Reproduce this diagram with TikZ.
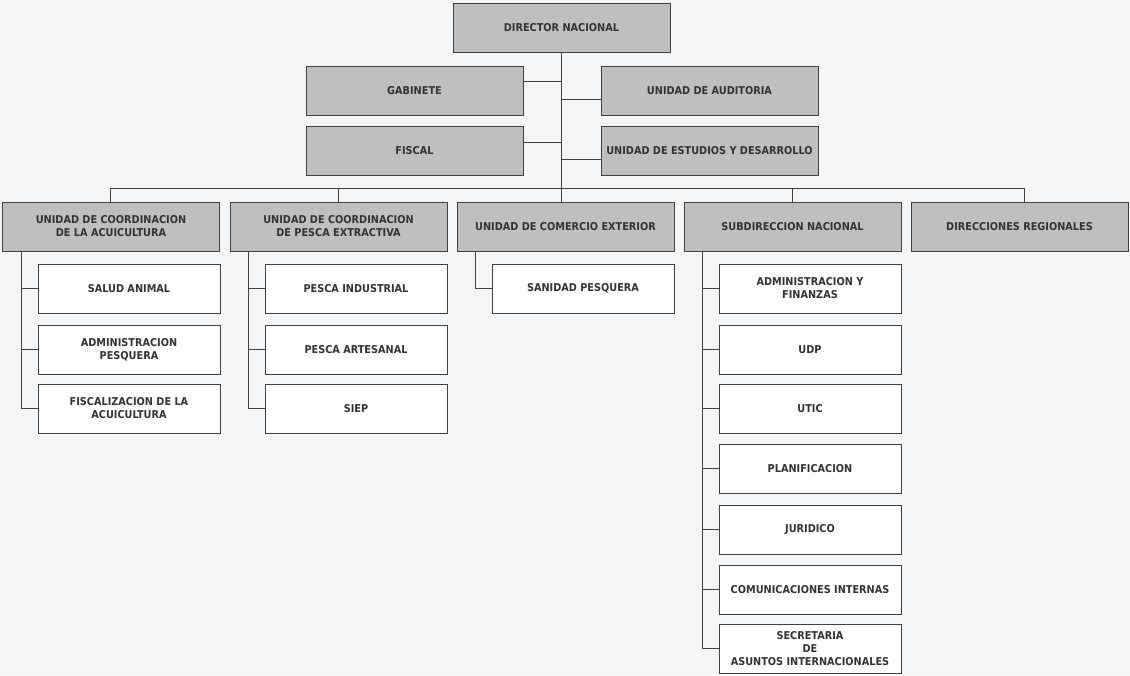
\documentclass[tikz,border=0pt]{standalone}
\usepackage{fontspec}
\setmainfont{DejaVu Sans Condensed}
\begin{document}
\begin{tikzpicture}[x=1pt,y=-1pt,
  every node/.style={font=\bfseries\fontsize{10.8}{12.9}\selectfont, text=black!80, align=center, inner sep=0pt},
  gbox/.style={draw=black!75, line width=1pt, fill=gray!50!white, minimum width=217pt, minimum height=49pt},
  wbox/.style={draw=black!75, line width=1pt, fill=white, minimum width=182pt, minimum height=49pt},
  conn/.style={draw=black!75, line width=1pt}]
\fill[fill={rgb,255:red,245;green,246;blue,248}] (0,0) rectangle (1130,675);
\useasboundingbox (0,0) rectangle (1130,675);
% top level
\node[gbox] (dir) at (561.5,27.5) {DIRECTOR NACIONAL};
\node[gbox] (gab) at (414.5,90.5) {GABINETE};
\node[gbox] (aud) at (709.5,90.5) {UNIDAD DE AUDITORIA};
\node[gbox] (fis) at (414.5,150.5) {FISCAL};
\node[gbox] (est) at (709.5,150.5) {UNIDAD DE ESTUDIOS Y DESARROLLO};
% level 2
\node[gbox] (l1) at (111,226.5) {UNIDAD DE COORDINACION\\DE LA ACUICULTURA};
\node[gbox] (l2) at (338.5,226.5) {UNIDAD DE COORDINACION\\DE PESCA EXTRACTIVA};
\node[gbox] (l3) at (565.5,226.5) {UNIDAD DE COMERCIO EXTERIOR};
\node[gbox] (l4) at (792.5,226.5) {SUBDIRECCION NACIONAL};
\node[gbox] (l5) at (1019.5,226.5) {DIRECCIONES REGIONALES};
% children of l1
\node[wbox] (a1) at (129,288.5) {SALUD ANIMAL};
\node[wbox] (a2) at (129,349.5) {ADMINISTRACION\\PESQUERA};
\node[wbox] (a3) at (129,408.5) {FISCALIZACION DE LA\\ACUICULTURA};
% children of l2
\node[wbox] (b1) at (356,288.5) {PESCA INDUSTRIAL};
\node[wbox] (b2) at (356,349.5) {PESCA ARTESANAL};
\node[wbox] (b3) at (356,408.5) {SIEP};
% child of l3
\node[wbox] (c1) at (583,288.5) {SANIDAD PESQUERA};
% children of l4
\node[wbox] (d1) at (810,288.5) {ADMINISTRACION Y\\FINANZAS};
\node[wbox] (d2) at (810,349.5) {UDP};
\node[wbox] (d3) at (810,408.5) {UTIC};
\node[wbox] (d4) at (810,468.5) {PLANIFICACION};
\node[wbox] (d5) at (810,529.5) {JURIDICO};
\node[wbox] (d6) at (810,589.5) {COMUNICACIONES INTERNAS};
\node[wbox] (d7) at (810,648.5) {SECRETARIA\\DE\\ASUNTOS INTERNACIONALES};
% trunk and bus
\coordinate (bus) at (561.5,188);
\coordinate (busL) at (110,188);
\coordinate (busR) at (1024,188);
\draw[conn] (dir.south) -- (bus) -- (l3.north -| bus);
\draw[conn] (busL) -- (busR);
\draw[conn] (busL) -- (busL |- l1.north);
\draw[conn] (l2.north |- bus) -- (l2.north);
\draw[conn] (l4.north |- bus) -- (l4.north);
\draw[conn] (busR) -- (busR |- l5.north);
% staff units
\draw[conn] ([yshift=9.5pt]gab.east) -- ([yshift=9.5pt]gab.east -| bus);
\draw[conn] ([yshift=-8.5pt]aud.west) -- ([yshift=-8.5pt]aud.west -| bus);
\draw[conn] ([yshift=8.5pt]fis.east) -- ([yshift=8.5pt]fis.east -| bus);
\draw[conn] ([yshift=-8.5pt]est.west) -- ([yshift=-8.5pt]est.west -| bus);
% sub-trees
\coordinate (t1) at ([xshift=19pt]l1.south west);
\draw[conn] (t1) -- (t1 |- a3.west) -- (a3.west);
\draw[conn] (a1.west) -- (a1.west -| t1);
\draw[conn] (a2.west) -- (a2.west -| t1);
\coordinate (t2) at ([xshift=19pt]l2.south west);
\draw[conn] (t2) -- (t2 |- b3.west) -- (b3.west);
\draw[conn] (b1.west) -- (b1.west -| t2);
\draw[conn] (b2.west) -- (b2.west -| t2);
\coordinate (t3) at ([xshift=19pt]l3.south west);
\draw[conn] (t3) -- (t3 |- c1.west) -- (c1.west);
\coordinate (t4) at ([xshift=19pt]l4.south west);
\draw[conn] (t4) -- (t4 |- d7.west) -- (d7.west);
\foreach \n in {d1,d2,d3,d4,d5,d6} \draw[conn] (\n.west) -- (\n.west -| t4);
\end{tikzpicture}
\end{document}
